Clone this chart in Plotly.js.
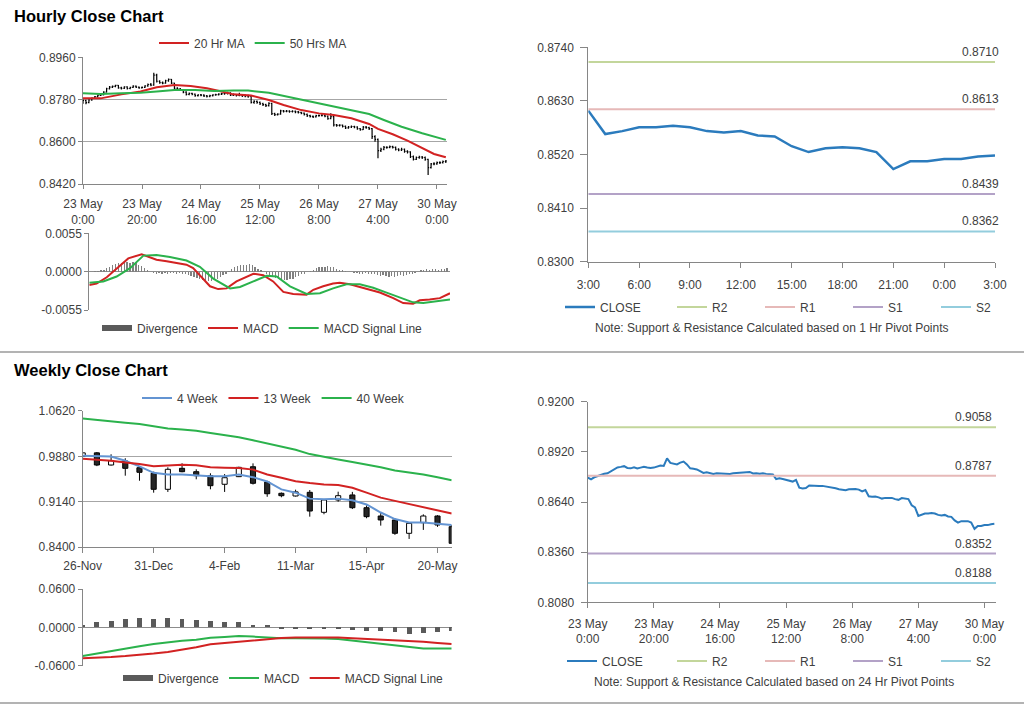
<!DOCTYPE html>
<html><head><meta charset="utf-8">
<script src="https://cdn.plot.ly/plotly-3.0.1.min.js"></script>
<style>html,body{margin:0;padding:0;background:#fff}#chart{width:1024px;height:706px}</style>
</head><body><div id="chart"></div>
<script>
// ---------------- DATA ----------------
// Hourly bars, 23 May 0:00 -> 30 May 3:00 (category index 0..123)
const hourTickVals = [0, 20, 40, 60, 80, 100, 120];
const hourTickText = ['23 May<br>0:00', '23 May<br>20:00', '24 May<br>16:00', '25 May<br>12:00', '26 May<br>8:00', '27 May<br>4:00', '30 May<br>0:00'];
const hourlyFirstOpen = 0.8772;
const hourlyClose = [
 0.8776,0.8767,0.8778,0.8786,0.8792,0.8798,0.8800,0.8812,0.8826,0.8833,
 0.8836,0.8840,0.8830,0.8828,0.8834,0.8827,0.8832,0.8837,0.8833,0.8830,
 0.8832,0.8838,0.8844,0.8841,0.8884,0.8858,0.8852,0.8850,0.8860,0.8866,
 0.8850,0.8828,0.8826,0.8822,0.8812,0.8802,0.8806,0.8803,0.8797,0.8800,
 0.8799,0.8796,0.8794,0.8797,0.8800,0.8801,0.8803,0.8805,0.8806,0.8808,
 0.8799,0.8801,0.8798,0.8800,0.8797,0.8796,0.8794,0.8768,0.8772,0.8768,
 0.8762,0.8758,0.8754,0.8764,0.8720,0.8716,0.8718,0.8732,0.8730,0.8731,
 0.8729,0.8730,0.8727,0.8725,0.8722,0.8717,0.8711,0.8708,0.8706,0.8711,
 0.8712,0.8713,0.8709,0.8699,0.8707,0.8672,0.8670,0.8671,0.8666,0.8659,
 0.8663,0.8665,0.8663,0.8656,0.8652,0.8662,0.8660,0.8656,0.8622,0.8610,
 0.8562,0.8568,0.8576,0.8576,0.8579,0.8576,0.8568,0.8565,0.8568,0.8559,
 0.8557,0.8537,0.8525,0.8533,0.8535,0.8533,0.8525,0.8490,0.8506,0.8506,
 0.8511,0.8511,0.8516,0.8518];
const hourlyHigh = [
 0.8780,0.8779,0.8781,0.8789,0.8795,0.8801,0.8804,0.8815,0.8830,0.8838,
 0.8840,0.8843,0.8842,0.8834,0.8837,0.8837,0.8835,0.8841,0.8840,0.8836,
 0.8836,0.8841,0.8848,0.8850,0.8894,0.8890,0.8862,0.8857,0.8864,0.8870,
 0.8868,0.8852,0.8832,0.8829,0.8825,0.8815,0.8810,0.8809,0.8806,0.8803,
 0.8804,0.8802,0.8799,0.8800,0.8803,0.8805,0.8807,0.8809,0.8811,0.8813,
 0.8811,0.8806,0.8804,0.8809,0.8804,0.8801,0.8800,0.8797,0.8777,0.8776,
 0.8772,0.8766,0.8762,0.8768,0.8766,0.8724,0.8722,0.8736,0.8735,0.8735,
 0.8734,0.8734,0.8733,0.8731,0.8728,0.8725,0.8720,0.8715,0.8712,0.8715,
 0.8716,0.8719,0.8717,0.8712,0.8722,0.8710,0.8676,0.8675,0.8674,0.8669,
 0.8667,0.8669,0.8668,0.8666,0.8659,0.8667,0.8667,0.8664,0.8659,0.8628,
 0.8614,0.8575,0.8582,0.8581,0.8584,0.8583,0.8580,0.8572,0.8575,0.8571,
 0.8564,0.8560,0.8541,0.8537,0.8540,0.8539,0.8537,0.8528,0.8510,0.8513,
 0.8516,0.8517,0.8520,0.8522];
const hourlyLow = [
 0.8762,0.8760,0.8764,0.8775,0.8783,0.8789,0.8795,0.8798,0.8810,0.8823,
 0.8829,0.8832,0.8826,0.8823,0.8825,0.8823,0.8824,0.8829,0.8829,0.8826,
 0.8827,0.8829,0.8835,0.8837,0.8839,0.8853,0.8847,0.8845,0.8847,0.8856,
 0.8846,0.8824,0.8821,0.8817,0.8807,0.8797,0.8798,0.8798,0.8792,0.8793,
 0.8794,0.8791,0.8789,0.8790,0.8793,0.8796,0.8797,0.8799,0.8800,0.8801,
 0.8795,0.8795,0.8793,0.8794,0.8791,0.8790,0.8788,0.8763,0.8762,0.8762,
 0.8757,0.8752,0.8748,0.8750,0.8714,0.8710,0.8712,0.8715,0.8725,0.8726,
 0.8724,0.8725,0.8722,0.8720,0.8717,0.8712,0.8706,0.8703,0.8701,0.8703,
 0.8707,0.8708,0.8704,0.8694,0.8696,0.8665,0.8664,0.8665,0.8661,0.8654,
 0.8655,0.8659,0.8658,0.8651,0.8647,0.8650,0.8655,0.8650,0.8612,0.8600,
 0.8530,0.8556,0.8564,0.8570,0.8572,0.8571,0.8563,0.8560,0.8561,0.8553,
 0.8550,0.8531,0.8520,0.8522,0.8528,0.8527,0.8519,0.8458,0.8486,0.8500,
 0.8502,0.8505,0.8507,0.8510];
// Hourly moving averages (read at selected hours)
const ma20X = [0,6,13,19.5,25,31,36.5,42,47,51,57,63,68,74,80,85,91,97,100,105,110,115,119,123];
const ma20Y = [0.8785,0.8785,0.8802,0.8814,0.8832,0.8842,0.8838,0.8828,0.8814,0.8802,0.8797,0.8778,0.8757,0.8735,0.8721,0.8714,0.8700,0.8676,0.8655,0.8632,0.8605,0.8575,0.8548,0.8534];
const ma50X = [0,6,13,19.5,25,31,38,44.5,51,56,63,69.5,76,83,90,97,102,108,115,123];
const ma50Y = [0.8807,0.8804,0.8807,0.8809,0.8814,0.8821,0.8821,0.8816,0.8818,0.8818,0.8809,0.8792,0.8775,0.8757,0.8738,0.8718,0.8693,0.8664,0.8636,0.8608];
// Hourly MACD
const hMacdX = [0,2.5,6,9.4,13.4,18,19.7,23.1,26.6,30,33.4,35.7,38,41.5,44.3,47.2,50.6,54,56.4,59.8,63.2,66.7,70.1,74.7,77,80.4,83.8,86.1,89.6,93,96.4,99.9,104.5,107.9,111.3,113.6,117,120.5,124];
const hMacdY = [-0.0019,-0.0017,-0.0008,0.0005,0.0019,0.0025,0.0022,0.0017,0.0015,0.0013,0.0010,0.0005,-0.0005,-0.0021,-0.0025,-0.0024,-0.0014,-0.0008,-0.0003,-0.0005,-0.0014,-0.0029,-0.0032,-0.0033,-0.0026,-0.0021,-0.0017,-0.0016,-0.0018,-0.0022,-0.0026,-0.0030,-0.0038,-0.0045,-0.0046,-0.0041,-0.0040,-0.0038,-0.0031];
const hSignalX = [0,4.8,9.4,14,18.6,23.1,27.7,33.4,38,42.6,48.4,51.8,56.4,61,64.4,69,74.7,79.3,83.8,88.4,93,97.6,102.2,106.7,111.3,114.8,118.2,124];
const hSignalY = [-0.0016,-0.0014,-0.0007,0.0005,0.0023,0.0024,0.0021,0.0016,0.0007,-0.0010,-0.0024,-0.0022,-0.0014,-0.0006,-0.0007,-0.0021,-0.0032,-0.0031,-0.0024,-0.0018,-0.0018,-0.0023,-0.0030,-0.0037,-0.0044,-0.0045,-0.0043,-0.0040];
const hDivergence = [
 0.0000,0.0000,0.0001,0.0001,0.0002,0.0003,0.0005,0.0007,0.0009,0.0011,
 0.0012,0.0013,0.0014,0.0014,0.0013,0.0014,0.0012,0.0010,0.0008,0.0005,
 0.0002,-0.0001,-0.0002,-0.0003,-0.0002,-0.0003,-0.0002,-0.0003,-0.0002,-0.0002,
 -0.0003,-0.0002,-0.0003,-0.0004,-0.0005,-0.0006,-0.0008,-0.0009,-0.0011,-0.0012,
 -0.0013,-0.0014,-0.0013,-0.0012,-0.0010,-0.0008,-0.0005,-0.0003,0.0001,0.0004,
 0.0006,0.0008,0.0009,0.0009,0.0010,0.0011,0.0009,0.0007,0.0004,0.0002,
 -0.0001,-0.0004,-0.0006,-0.0008,-0.0009,-0.0010,-0.0011,-0.0012,-0.0012,-0.0011,
 -0.0010,-0.0008,-0.0006,-0.0004,-0.0003,-0.0001,0.0001,0.0003,0.0005,0.0006,
 0.0007,0.0007,0.0008,0.0007,0.0006,0.0004,0.0003,0.0002,0.0001,0.0000,
 -0.0001,-0.0002,-0.0002,-0.0003,-0.0003,-0.0002,-0.0003,-0.0004,-0.0003,-0.0005,
 -0.0006,-0.0005,-0.0006,-0.0007,-0.0006,-0.0007,-0.0006,-0.0005,-0.0006,-0.0005,
 -0.0004,-0.0003,-0.0002,0.0000,0.0002,0.0003,0.0004,0.0003,0.0004,0.0004,
 0.0003,0.0004,0.0004,0.0005];
// Last 24 hours (1 Hr pivots)
const lastDayTickText = ['3:00','6:00','9:00','12:00','15:00','18:00','21:00','0:00','3:00'];
const pivotNames = ['R2','R1','S1','S2'];
const hourPivotValues = [0.8710, 0.8613, 0.8439, 0.8362];
const dayPivotValues = [0.9058, 0.8787, 0.8352, 0.8188];
// Weekly candles 26-Nov -> 27-May
const weekTickText = ['26-Nov','31-Dec','4-Feb','11-Mar','15-Apr','20-May'];
const weekOpen  = [0.9880,0.9936,0.9738,0.9803,0.9694,0.9603,0.9342,0.9684,0.9629,0.9564,0.9424,0.9548,0.9710,0.9460,0.9277,0.9233,0.9293,0.8967,0.9168,0.9250,0.9042,0.8907,0.8842,0.8625,0.8798,0.8907,0.8733];
const weekHigh  = [0.9940,0.9950,0.9913,0.9848,0.9721,0.9630,0.9700,0.9766,0.9668,0.9603,0.9590,0.9710,0.9765,0.9480,0.9290,0.9336,0.9330,0.9180,0.9303,0.9300,0.9080,0.8967,0.8870,0.8804,0.8934,0.8920,0.8760];
const weekLow   = [0.9875,0.9720,0.9730,0.9564,0.9482,0.9287,0.9299,0.9620,0.9505,0.9342,0.9299,0.9542,0.9420,0.9220,0.9212,0.9225,0.8896,0.8935,0.9140,0.9020,0.8870,0.8750,0.8600,0.8533,0.8680,0.8730,0.8462];
const weekClose = [0.9936,0.9738,0.9808,0.9684,0.9619,0.9342,0.9668,0.9629,0.9564,0.9401,0.9531,0.9700,0.9440,0.9270,0.9238,0.9300,0.8988,0.9168,0.9238,0.9042,0.8896,0.8842,0.8625,0.8788,0.8907,0.8760,0.8462];
const ma4w  = [0.9889,0.9889,0.9878,0.9808,0.9717,0.9610,0.9583,0.9583,0.9567,0.9556,0.9556,0.9583,0.9540,0.9470,0.9341,0.9287,0.9190,0.9180,0.9190,0.9163,0.9095,0.8964,0.8857,0.8800,0.8800,0.8776,0.8762];
const ma13w = [0.9840,0.9825,0.9808,0.9780,0.9755,0.9717,0.9735,0.9744,0.9733,0.9701,0.9695,0.9690,0.9663,0.9583,0.9530,0.9475,0.9445,0.9421,0.9411,0.9368,0.9287,0.9206,0.9153,0.9099,0.9045,0.8991,0.8948];
const ma40w = [1.0496,1.0470,1.0443,1.0425,1.0405,1.0370,1.0335,1.0315,1.0297,1.0260,1.0228,1.0190,1.0142,1.0093,1.0040,0.9986,0.9916,0.9868,0.9828,0.9787,0.9745,0.9701,0.9647,0.9615,0.9583,0.9537,0.9491];
const wMacd   = [-0.0449,-0.0410,-0.0365,-0.0329,-0.0295,-0.0260,-0.0230,-0.0210,-0.0195,-0.0162,-0.0150,-0.0136,-0.0145,-0.0160,-0.0172,-0.0170,-0.0170,-0.0175,-0.0183,-0.0209,-0.0230,-0.0250,-0.0280,-0.0310,-0.0329,-0.0332,-0.0332];
const wSignal = [-0.0485,-0.0480,-0.0465,-0.0450,-0.0433,-0.0410,-0.0385,-0.0350,-0.0310,-0.0266,-0.0245,-0.0224,-0.0198,-0.0175,-0.0165,-0.0157,-0.0155,-0.0155,-0.0160,-0.0172,-0.0180,-0.0190,-0.0198,-0.0210,-0.0224,-0.0243,-0.0261];
const wDivergence = [0.0030,0.0078,0.0099,0.0130,0.0151,0.0130,0.0151,0.0130,0.0115,0.0099,0.0078,0.0078,0.0031,0.0031,-0.0021,-0.0021,-0.0021,-0.0021,-0.0021,-0.0042,-0.0057,-0.0057,-0.0068,-0.0110,-0.0094,-0.0068,-0.0052];

// ---------------- BUILD ----------------
const F = 'Arial, "Liberation Sans", sans-serif';
const TXT = '#404040', AXC = '#868686', GRID = '#a6a6a6';
const RED = '#d22222', GREEN = '#2bb24c', BLUE = '#2b7bbd', BLUE4 = '#6394d2';
const pivotColors = ['#c3d69b', '#e6b9b8', '#b3a2c7', '#93cddd'];
const px = x => x / 1024, py = y => 1 - y / 706;
const tf = (s, c) => ({family: F, size: s || 12, color: c || TXT});
const f4 = v => v.toFixed(4);
const idx = n => Array.from({length: n}, (_, i) => i);

const hIdx = idx(hourlyClose.length);
const hourlyOpen = [hourlyFirstOpen].concat(hourlyClose.slice(0, -1));
const lastDay = hourlyClose.slice(-25);
const ldIdx = idx(lastDay.length);
const ldTickVals = lastDayTickText.map((_, i) => i * 3);
const wIdx = idx(weekClose.length);
const weekTickVals = weekTickText.map((_, i) => i * 5);

function yAx(domain, range, vals, grid, extra) {
  return Object.assign({domain, range, tickvals: vals, ticktext: vals.map(f4), showgrid: grid, gridcolor: GRID, gridwidth: 1,
    zeroline: false, showline: true, linecolor: AXC, linewidth: 1, ticks: 'outside', ticklen: 4, tickcolor: AXC,
    tickfont: tf(12), fixedrange: true, automargin: false}, extra || {});
}
function xAx(domain, range, vals, text, anchor, extra) {
  return Object.assign({domain, range, anchor, tickvals: vals, ticktext: text, showgrid: false, zeroline: false,
    showline: true, linecolor: AXC, linewidth: 1, ticks: 'outside', ticklen: 5, tickcolor: AXC, tickfont: tf(12),
    fixedrange: true, automargin: false, rangeslider: {visible: false}}, extra || {});
}

const traces = [];
// Hourly OHLC + MAs
traces.push({type: 'ohlc', xaxis: 'x', yaxis: 'y', x: hIdx, open: hourlyOpen, high: hourlyHigh, low: hourlyLow, close: hourlyClose,
  increasing: {line: {color: '#000', width: 1.2}}, decreasing: {line: {color: '#000', width: 1.2}}, tickwidth: 0.35, showlegend: false, hoverinfo: 'skip'});
traces.push({type: 'scatter', mode: 'lines', xaxis: 'x', yaxis: 'y', x: ma20X, y: ma20Y, name: '20 Hr MA', legend: 'legend', line: {color: RED, width: 2}});
traces.push({type: 'scatter', mode: 'lines', xaxis: 'x', yaxis: 'y', x: ma50X, y: ma50Y, name: '50 Hrs MA', legend: 'legend', line: {color: GREEN, width: 2}});
// Hourly MACD
traces.push({type: 'bar', xaxis: 'x2', yaxis: 'y2', x: hIdx, y: hDivergence, width: 0.45, marker: {color: '#808080', line: {width: 0}}, showlegend: false});
traces.push({type: 'scatter', mode: 'lines', xaxis: 'x2', yaxis: 'y2', x: [null], y: [null], name: 'Divergence', legend: 'legend2', line: {color: '#5a5a5a', width: 6}});
traces.push({type: 'scatter', mode: 'lines', xaxis: 'x2', yaxis: 'y2', x: hMacdX, y: hMacdY, name: 'MACD', legend: 'legend2', line: {color: RED, width: 2}});
traces.push({type: 'scatter', mode: 'lines', xaxis: 'x2', yaxis: 'y2', x: hSignalX, y: hSignalY, name: 'MACD Signal Line', legend: 'legend2', line: {color: GREEN, width: 2}});
// Last-day close with 1 Hr pivots
traces.push({type: 'scatter', mode: 'lines', xaxis: 'x3', yaxis: 'y3', x: ldIdx, y: lastDay, name: 'CLOSE', legend: 'legend3', line: {color: BLUE, width: 2.5}});
pivotNames.forEach((n, i) => traces.push({type: 'scatter', mode: 'lines', xaxis: 'x3', yaxis: 'y3', x: [0, lastDay.length - 1],
  y: [hourPivotValues[i], hourPivotValues[i]], name: n, legend: 'legend4', line: {color: pivotColors[i], width: 2}}));
// Weekly candles
const wickX = [], wickY = [], bodyBase = [], bodyH = [], bodyCol = [];
wIdx.forEach(i => {
  const top = Math.max(weekOpen[i], weekClose[i]), bot = Math.min(weekOpen[i], weekClose[i]);
  wickX.push(i, i, null, i, i, null);
  wickY.push(weekHigh[i], top, null, bot, weekLow[i], null);
  bodyBase.push(bot); bodyH.push(top - bot);
  bodyCol.push(weekClose[i] >= weekOpen[i] ? '#ffffff' : '#262626');
});
traces.push({type: 'bar', xaxis: 'x4', yaxis: 'y4', x: wIdx, base: bodyBase, y: bodyH, width: 0.36,
  marker: {color: bodyCol, line: {color: '#000', width: 1}}, showlegend: false, hoverinfo: 'skip'});
traces.push({type: 'scatter', mode: 'lines', xaxis: 'x4', yaxis: 'y4', x: wickX, y: wickY, line: {color: '#000', width: 1}, showlegend: false, hoverinfo: 'skip'});
traces.push({type: 'scatter', mode: 'lines', xaxis: 'x4', yaxis: 'y4', x: wIdx, y: ma4w, name: '4 Week', legend: 'legend5', line: {color: BLUE4, width: 2}});
traces.push({type: 'scatter', mode: 'lines', xaxis: 'x4', yaxis: 'y4', x: wIdx, y: ma13w, name: '13 Week', legend: 'legend5', line: {color: RED, width: 2}});
traces.push({type: 'scatter', mode: 'lines', xaxis: 'x4', yaxis: 'y4', x: wIdx, y: ma40w, name: '40 Week', legend: 'legend5', line: {color: GREEN, width: 2}});
// Weekly MACD
traces.push({type: 'bar', xaxis: 'x5', yaxis: 'y5', x: wIdx, y: wDivergence, width: 0.34, marker: {color: '#5a5a5a', line: {width: 0}}, showlegend: false});
traces.push({type: 'scatter', mode: 'lines', xaxis: 'x5', yaxis: 'y5', x: [null], y: [null], name: 'Divergence', legend: 'legend6', line: {color: '#5a5a5a', width: 6}});
traces.push({type: 'scatter', mode: 'lines', xaxis: 'x5', yaxis: 'y5', x: wIdx, y: wMacd, name: 'MACD', legend: 'legend6', line: {color: GREEN, width: 2}});
traces.push({type: 'scatter', mode: 'lines', xaxis: 'x5', yaxis: 'y5', x: wIdx, y: wSignal, name: 'MACD Signal Line', legend: 'legend6', line: {color: RED, width: 2}});
// Hourly close with 24 Hr pivots
const brRange = [0, 123.5];
traces.push({type: 'scatter', mode: 'lines', xaxis: 'x6', yaxis: 'y6', x: hIdx, y: hourlyClose, name: 'CLOSE', legend: 'legend7', line: {color: BLUE, width: 2}});
pivotNames.forEach((n, i) => traces.push({type: 'scatter', mode: 'lines', xaxis: 'x6', yaxis: 'y6', x: brRange,
  y: [dayPivotValues[i], dayPivotValues[i]], name: n, legend: 'legend8', line: {color: pivotColors[i], width: 2}}));

function leg(x, y, extra) {
  return Object.assign({x: px(x), y: py(y), xanchor: 'left', yanchor: 'middle', orientation: 'h', font: tf(12),
    bgcolor: 'rgba(0,0,0,0)', borderwidth: 0, itemclick: false, itemdoubleclick: false}, extra || {});
}

const annotations = [];
annotations.push({xref: 'paper', yref: 'paper', x: px(12), y: py(16), xanchor: 'left', yanchor: 'middle', showarrow: false,
  text: '<b>Hourly Close Chart</b>', font: {family: F, size: 16.5, color: '#000'}});
annotations.push({xref: 'paper', yref: 'paper', x: px(12), y: py(370), xanchor: 'left', yanchor: 'middle', showarrow: false,
  text: '<b>Weekly Close Chart</b>', font: {family: F, size: 16.5, color: '#000'}});
hourPivotValues.forEach(v => annotations.push({xref: 'x3', yref: 'y3', x: lastDay.length - 1, y: v, xanchor: 'right', yanchor: 'bottom',
  xshift: 6, yshift: 1, showarrow: false, text: f4(v), font: tf(12)}));
dayPivotValues.forEach(v => annotations.push({xref: 'x6', yref: 'y6', x: brRange[1], y: v, xanchor: 'right', yanchor: 'bottom',
  xshift: -2, yshift: 1, showarrow: false, text: f4(v), font: tf(12)}));
annotations.push({xref: 'paper', yref: 'paper', x: px(772), y: py(328), xanchor: 'center', yanchor: 'middle', showarrow: false,
  text: 'Note: Support &amp; Resistance Calculated based on 1 Hr Pivot Points', font: tf(12)});
annotations.push({xref: 'paper', yref: 'paper', x: px(774), y: py(682), xanchor: 'center', yanchor: 'middle', showarrow: false,
  text: 'Note: Support &amp; Resistance Calculated based on 24 Hr Pivot Points', font: tf(12)});

const layout = {
  width: 1024, height: 706, margin: {l: 0, r: 0, t: 0, b: 0, pad: 0, autoexpand: false}, paper_bgcolor: '#fff', plot_bgcolor: 'rgba(0,0,0,0)',
  font: tf(12), hovermode: false, showlegend: true, barmode: 'overlay', bargap: 0,
  xaxis: xAx([px(83), px(447)], [0, 123.4], hourTickVals, hourTickText, 'y', {ticklen: 4, ticklabelstandoff: 5}),
  yaxis: yAx([py(184), py(57.3)], [0.842, 0.896], [0.842, 0.860, 0.878, 0.896], true, {anchor: 'x'}),
  xaxis2: xAx([px(89.3), px(450)], [0, 124], [], [], 'y2', {showline: false, ticks: '', showticklabels: false}),
  yaxis2: yAx([py(310), py(233.3)], [-0.0055, 0.0055], [-0.0055, 0, 0.0055], true, {anchor: 'x2', zeroline: true, zerolinecolor: '#8c8c8c', zerolinewidth: 1}),
  xaxis3: xAx([px(588.3), px(995)], [0, 24], ldTickVals, lastDayTickText, 'y3', {ticklabelstandoff: 7}),
  yaxis3: yAx([py(261.7), py(47.3)], [0.830, 0.874], [0.830, 0.841, 0.852, 0.863, 0.874], false, {anchor: 'x3', ticklen: 7, ticklabelstandoff: 4}),
  xaxis4: xAx([px(82.7), px(451.7)], [0, 26], weekTickVals, weekTickText, 'y4', {ticklabelstandoff: 2}),
  yaxis4: yAx([py(547.1), py(410.9)], [0.840, 1.062], [0.840, 0.914, 0.988, 1.062], true, {anchor: 'x4'}),
  xaxis5: xAx([px(82.7), px(451.7)], [0, 26], [], [], 'y5', {showline: false, ticks: '', showticklabels: false}),
  yaxis5: yAx([py(665.7), py(589)], [-0.06, 0.06], [-0.06, 0, 0.06], true, {anchor: 'x5', zeroline: true, zerolinecolor: '#8c8c8c', zerolinewidth: 1}),
  xaxis6: xAx([px(587.7), px(996)], brRange, hourTickVals, hourTickText, 'y6', {ticklabelstandoff: 5}),
  yaxis6: yAx([py(602.3), py(401.7)], [0.808, 0.920], [0.808, 0.836, 0.864, 0.892, 0.920], false, {anchor: 'x6', ticklen: 6, ticklabelstandoff: 4}),
  legend: leg(154, 43),
  legend2: leg(97, 328),
  legend3: leg(560, 307),
  legend4: leg(672, 307, {entrywidth: 43}),
  legend5: leg(137, 398),
  legend6: leg(118, 678),
  legend7: leg(562, 661),
  legend8: leg(672, 661, {entrywidth: 43}),
  annotations: annotations,
  shapes: [
    {type: 'line', xref: 'paper', yref: 'paper', x0: 0, x1: 1, y0: py(352), y1: py(352), line: {color: '#9a9a9a', width: 1.5}},
    {type: 'line', xref: 'paper', yref: 'paper', x0: 0, x1: 1, y0: py(703), y1: py(703), line: {color: '#9a9a9a', width: 1.5}}
  ]
};

Plotly.newPlot('chart', traces, layout, {staticPlot: true, displayModeBar: false});
</script></body></html>
